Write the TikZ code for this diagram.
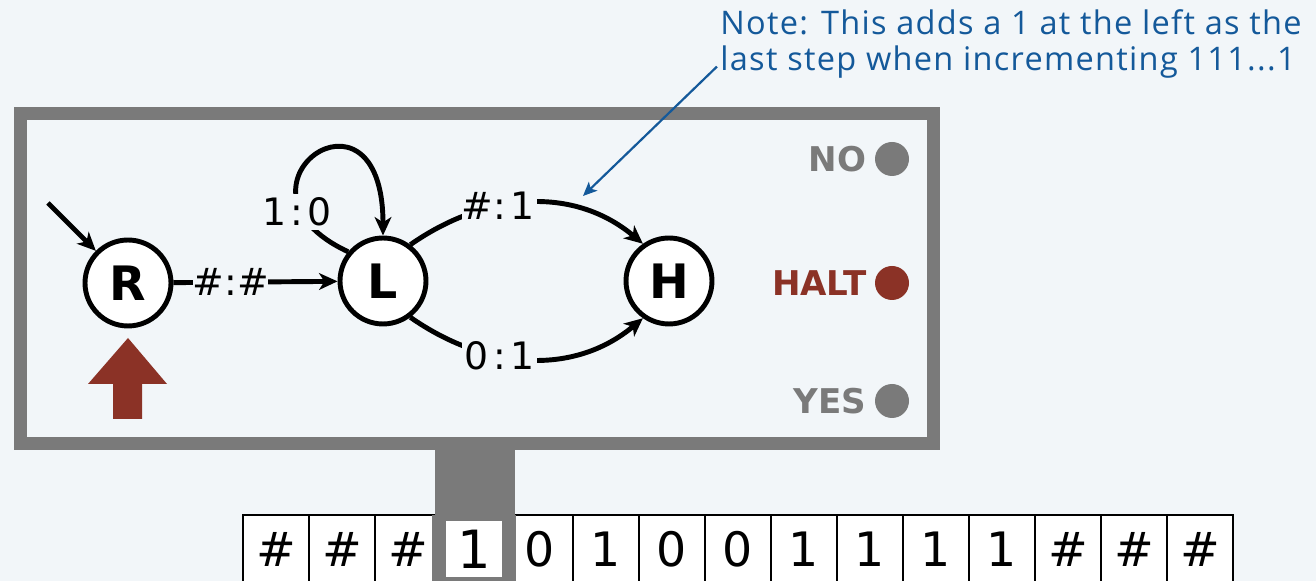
\documentclass[tikz,border=0pt]{standalone}
\usepackage{fontspec}
\usepackage{tikz}
\usetikzlibrary{arrows.meta}
\usetikzlibrary{calc}
\usetikzlibrary{positioning}
\newfontfamily\dvsans{DejaVu Sans}
\newfontfamily\notefont{Open Sans}[LetterSpace=4]
\definecolor{bg}{HTML}{F2F6F9}
\definecolor{framegray}{HTML}{7A7A7A}
\definecolor{haltred}{HTML}{8B3226}
\definecolor{noteblue}{HTML}{14599A}
% read:write label with fixed-width characters
\newcommand{\trule}[2]{\makebox[0.6em]{#1}\makebox[0.6em]{:}\makebox[0.6em]{#2}}

\begin{document}
\begin{tikzpicture}[x=0.02cm,y=0.02cm,
	state/.style={circle,draw,line width=2.8pt,fill=white,minimum size=1.72cm,inner sep=0pt,font=\dvsans\bfseries\fontsize{27}{27}\selectfont},
	trans/.style={line width=2.8pt,-{Stealth[length=10.5pt,width=9.5pt,inset=3pt]}},
	rule/.style={fill=bg,inner sep=2pt,font=\dvsans\fontsize{21.5}{21.5}\selectfont},
	cell/.style={draw,line width=0.8pt,fill=white,minimum width=1.32cm,minimum height=1.36cm,inner sep=0pt,font=\dvsans\fontsize{27}{27}\selectfont},
	lamp/.style={circle,fill=framegray,minimum size=0.68cm,inner sep=0pt},
	lamplabel/.style={text=framegray,inner sep=0pt,font=\dvsans\bfseries\fontsize{19.4}{19.4}\selectfont},
	note/.style={anchor=base west,inner sep=0pt,text=noteblue,font=\notefont\fontsize{18.5}{18.5}\selectfont}]
		\fill[bg] (0,0) rectangle (1316,581);
		\useasboundingbox (0,0) rectangle (1316,581);
		% tape
		\foreach \sym [count=\i from 0] in {\#,\#,\#,{},0,1,0,0,1,1,1,1,\#,\#,\#}
			\node[cell] (c\i) at (276+66*\i,32) {\sym};
		% machine box and stem
		\fill[framegray] (435,0) rectangle (515,131);
		\fill[framegray] (432,0) rectangle (516,66);
		\node[fill=white,minimum size=1.12cm,inner sep=0pt,font=\dvsans\fontsize{30}{30}\selectfont] (head) at (474,32) {1};
		\draw[framegray,line width=0.26cm] (20.5,137) rectangle (933,467.5);
		% states
		\node[state] (R) at (128,298) {R};
		\node[state] (L) at (383,300) {L};
		\node[state] (H) at (669,300) {H};
		\coordinate (start) at (48,378);
		\draw[trans] (start) -- (R.135);
		\draw[trans] (R) -- node[rule,pos=0.35] {\trule{\#}{\#}} (L);
		\draw[trans] (L.140) .. controls +(155:150) and +(90:170) .. (L.90);
		\node[rule] (loop) at (297,369) {\trule{1}{0}};
		\draw[trans] (L.53) to[out=35,in=140] node[rule,pos=0.38] {\trule{\#}{1}} (H.125);
		\draw[trans] (L.-53) to[out=-35,in=-140] node[rule,pos=0.38] {\trule{0}{1}} (H.-125);
		% head arrow
		\fill[haltred] (128,243) -- (167,197) -- (142,197) -- (142,162) -- (113,162) -- (113,197) -- (88,197) -- cycle;
		% lamps
		\node[lamp] (no) at (892,422) {};
		\node[lamp,fill=haltred] (halt) at (892,298) {};
		\node[lamp] (yes) at (892,180) {};
		\node[lamplabel,left=0.16cm of no] {NO};
		\node[lamplabel,left=0.16cm of halt,text=haltred] {HALT};
		\node[lamplabel,left=0.16cm of yes] {YES};
		% note
		\node[note] (note1) at (720,546) {Note: This adds a 1 at the left as the};
		\node[note] (note2) at (720,510) {last step when incrementing 111...1};
		\coordinate (noteto) at (583,385);
		\draw[noteblue,line width=1.25pt,-{Stealth[length=8pt,width=7pt,inset=2pt]}] ($(note2.west)+(-3,-4)$) -- (noteto);
	\end{tikzpicture}
\end{document}
